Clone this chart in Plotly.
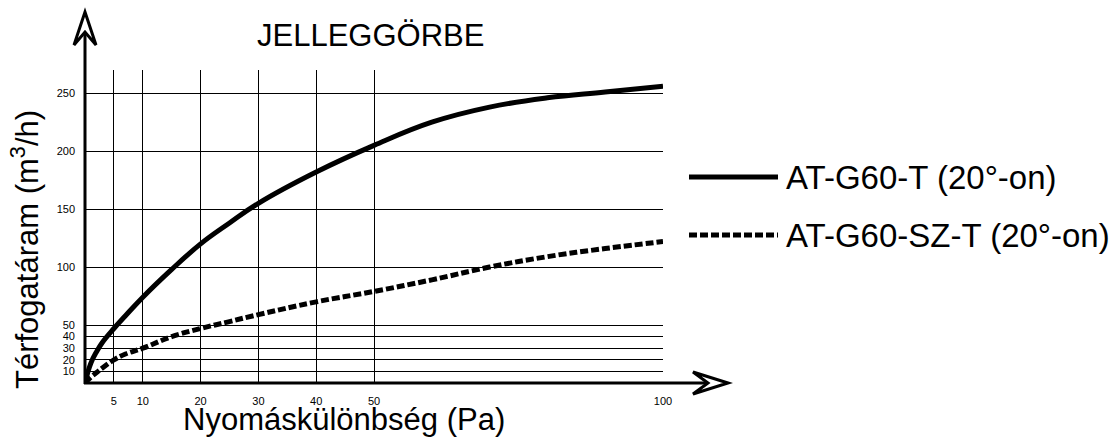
import plotly.graph_objects as go

# ---- data ----
pressure = [0, 1, 2, 3, 5, 7, 10, 15, 20, 25, 30, 40, 50, 60, 70, 80, 90, 100]
flow_t = [0, 17, 27, 35, 47, 58, 74, 98, 120, 138, 155, 182, 205, 225, 238, 246, 251, 256]
flow_szt = [0, 5, 9, 13, 20, 25, 30, 40, 47, 53, 59, 70, 79, 89, 100, 109, 116, 122]

x_ticks = [5, 10, 20, 30, 40, 50, 100]
y_ticks = [10, 20, 30, 40, 50, 100, 150, 200, 250]

name_t = "AT-G60-T (20°-on)"
name_szt = "AT-G60-SZ-T (20°-on)"
title_text = "JELLEGGÖRBE"
x_title = "Nyomáskülönbség (Pa)"
y_title = "Térfogatáram (m<sup>3</sup>/h)"

W, H = 1112, 439
PL, PR, PT, PB = 85, 663, 70, 383
FONT = "Arial, 'Liberation Sans', sans-serif"


def px(x):
    return (x - PL) / (PR - PL)


def py(y):
    return (PB - y) / (PB - PT)


fig = go.Figure()
fig.add_trace(go.Scatter(x=pressure, y=flow_t, mode="lines", name=name_t,
                         line=dict(color="black", width=5, shape="spline", smoothing=1.2),
                         showlegend=False))
fig.add_trace(go.Scatter(x=pressure, y=flow_szt, mode="lines", name=name_szt,
                         line=dict(color="black", width=5, shape="spline", smoothing=1.2, dash="8px,3px"),
                         showlegend=False))

shapes = []
# axis lines with arrows
shapes.append(dict(type="line", xref="paper", yref="paper", x0=px(85), y0=py(384), x1=px(85), y1=py(24),
                   line=dict(color="black", width=3)))
shapes.append(dict(type="line", xref="paper", yref="paper", x0=px(84), y0=py(383), x1=px(716), y1=py(383),
                   line=dict(color="black", width=3)))
shapes.append(dict(type="path", xref="paper", yref="paper",
                   path="M {},{} L {},{} L {},{} L {},{} Z".format(px(85), py(12), px(74), py(45), px(85), py(32), px(96), py(45)),
                   fillcolor="white", line=dict(color="black", width=3)))
shapes.append(dict(type="path", xref="paper", yref="paper",
                   path="M {},{} L {},{} L {},{} L {},{} Z".format(px(728), py(383), px(693), py(372), px(708), py(383), px(693), py(394)),
                   fillcolor="white", line=dict(color="black", width=3)))
# legend samples
shapes.append(dict(type="line", xref="paper", yref="paper", x0=px(689), y0=py(177), x1=px(778), y1=py(177),
                   line=dict(color="black", width=5)))
shapes.append(dict(type="line", xref="paper", yref="paper", x0=px(689), y0=py(235), x1=px(778), y1=py(235),
                   line=dict(color="black", width=5, dash="8px,3px")))

annotations = [
    dict(text=title_text, xref="paper", yref="paper", x=px(370), y=py(36), showarrow=False,
         xanchor="center", yanchor="middle", font=dict(size=31, color="black", family=FONT)),
    dict(text=x_title, xref="paper", yref="paper", x=px(344), y=py(419), showarrow=False,
         xanchor="center", yanchor="middle", font=dict(size=31, color="black", family=FONT)),
    dict(text=y_title, xref="paper", yref="paper", x=px(25), y=py(250), showarrow=False, textangle=-90,
         xanchor="center", yanchor="middle", font=dict(size=31, color="black", family=FONT)),
    dict(text=name_t, xref="paper", yref="paper", x=px(784), y=py(177), showarrow=False,
         xanchor="left", yanchor="middle", font=dict(size=33, color="black", family=FONT)),
    dict(text=name_szt, xref="paper", yref="paper", x=px(784), y=py(235), showarrow=False,
         xanchor="left", yanchor="middle", font=dict(size=33, color="black", family=FONT)),
]

fig.update_layout(
    width=W, height=H,
    margin=dict(l=PL, r=W - PR, t=PT, b=H - PB, pad=0),
    paper_bgcolor="white", plot_bgcolor="white",
    font=dict(color="black", family=FONT),
    showlegend=False,
    shapes=shapes, annotations=annotations,
    xaxis=dict(range=[0, 100], tickvals=x_ticks, ticktext=[str(v) for v in x_ticks],
               showgrid=True, gridcolor="black", gridwidth=1, zeroline=False, showline=False,
               ticks="", ticklabelstandoff=10, tickfont=dict(size=11, color="black", family=FONT),
               fixedrange=True),
    yaxis=dict(range=[0, 270], tickvals=y_ticks, ticktext=[str(v) for v in y_ticks],
               showgrid=True, gridcolor="black", gridwidth=1, zeroline=False, showline=False,
               ticks="", ticklabelstandoff=9, tickfont=dict(size=11, color="black", family=FONT),
               fixedrange=True),
)

fig.write_html("out.html", config={"displayModeBar": False},
               post_script="document.body.style.margin='0px';document.body.style.overflow='hidden';")
